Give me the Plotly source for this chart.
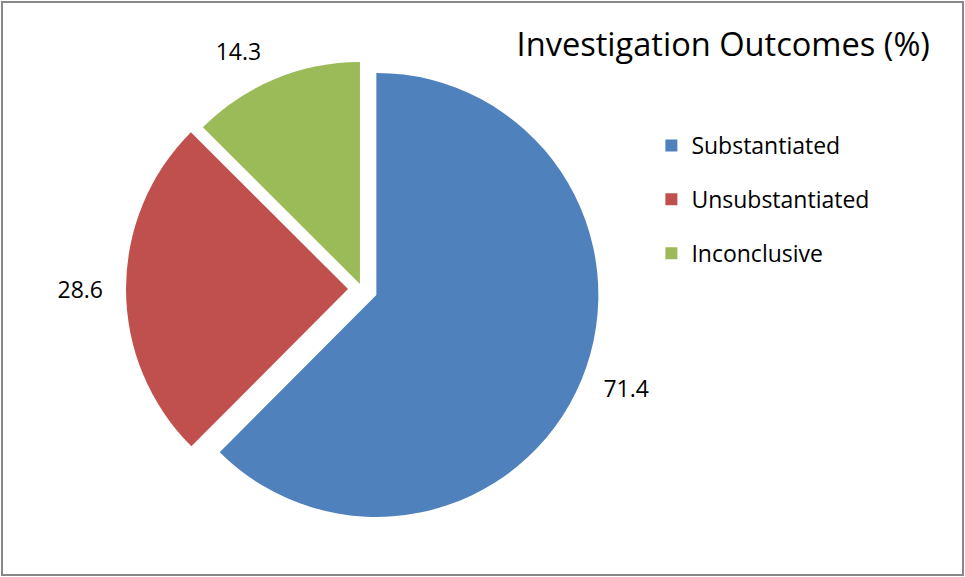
import plotly.graph_objects as go

categories = ["Substantiated", "Unsubstantiated", "Inconclusive"]
values = [71.4, 28.6, 14.3]
colors = ["#4F81BD", "#C0504D", "#9BBB59"]
pulls = [0.07, 0.063, 0.024]
title_text = "Investigation Outcomes (%)"

FONT = "Open Sans"
W, H = 965, 577

# geometry of the pie (pixels)
CX, CY, R = 362, 289, 222
R_LABEL = 237  # radius of the (invisible) ring that carries the outside value labels


def domain_for(radius, max_pull, half_x_frac):
    half = radius * (1 + max_pull)
    yc = (H - CY) / H
    xc = CX / W
    return dict(x=[xc - half_x_frac, xc + half_x_frac],
                y=[yc - half / H, yc + half / H])


label_pulls = [p * R / R_LABEL for p in pulls]

fig = go.Figure()

# invisible ring carrying the value labels slightly further out
fig.add_trace(go.Pie(
    labels=categories,
    values=values,
    sort=False,
    direction="clockwise",
    rotation=0,
    pull=label_pulls,
    marker=dict(colors=["rgba(0,0,0,0)"] * 3, line=dict(width=0)),
    textinfo="value",
    texttemplate="%{value:.1f}",
    textposition="outside",
    outsidetextfont=dict(family=FONT, size=23, color="#000000"),
    domain=domain_for(R_LABEL, max(label_pulls), 0.32),
    showlegend=False,
    hoverinfo="skip",
))

# the visible pie
fig.add_trace(go.Pie(
    labels=categories,
    values=values,
    sort=False,
    direction="clockwise",
    rotation=0,
    pull=pulls,
    marker=dict(colors=colors, line=dict(width=0)),
    textinfo="none",
    domain=domain_for(R, max(pulls), 0.30),
    showlegend=False,
    hoverinfo="label+value",
))

# legend entries (square swatches)
for name, col in zip(categories, colors):
    fig.add_trace(go.Scatter(
        x=[None], y=[None], mode="markers", name=name,
        marker=dict(symbol="square", size=15, color=col),
        legendgroup=name, showlegend=True, hoverinfo="skip",
    ))

fig.update_layout(
    width=W, height=H,
    margin=dict(l=0, r=0, t=0, b=0, autoexpand=False),
    paper_bgcolor="white", plot_bgcolor="white",
    title=dict(text=title_text, font=dict(family=FONT, size=32.6, color="#000000"),
               x=0.9637, xanchor="right", xref="container",
               y=0.9225, yanchor="middle", yref="container"),
    xaxis=dict(visible=False), yaxis=dict(visible=False),
    legend=dict(x=0.675, xanchor="left", y=0.7851, yanchor="top",
                font=dict(family=FONT, size=23, color="#000000"),
                tracegroupgap=21, itemsizing="constant",
                bgcolor="rgba(0,0,0,0)"),
    shapes=[dict(type="rect", xref="paper", yref="paper",
                 x0=2 / W, y0=2 / H, x1=1 - 2 / W, y1=1 - 2 / H,
                 line=dict(color="#888888", width=2))],
)

fig.write_html("out.html", config={"displayModeBar": False},
               post_script="document.body.style.margin='0';")
